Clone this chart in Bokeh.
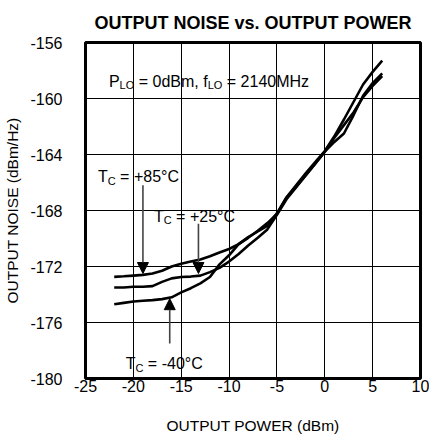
import math
from bokeh.plotting import figure
from bokeh.models import Label, Arrow, NormalHead, FixedTicker, Range1d
from bokeh.embed import file_html
from bokeh.resources import INLINE

# ---------------- data ----------------
output_power = [-22, -21, -20, -19, -18, -17, -16, -15, -14, -13, -12, -11, -10, -9, -8,
                -7, -6, -5, -4, -3, -2, -1, 0, 1, 2, 3, 4, 5, 6]
noise_p85 = [-172.74, -172.7, -172.65, -172.6, -172.5, -172.3, -172.0, -171.8, -171.65, -171.5,
             -171.27, -171.0, -170.75, -170.4, -169.95, -169.45, -168.9, -168.25, -167.1, -166.3,
             -165.5, -164.65, -163.8, -162.8, -161.9, -161.0, -159.9, -159.1, -158.4]
noise_p25 = [-173.5, -173.5, -173.45, -173.45, -173.4, -173.1, -172.85, -172.75, -172.72, -172.65,
             -172.4, -172.1, -171.65, -171.1, -170.5, -169.95, -169.35, -168.3, -167.2, -166.35,
             -165.5, -164.65, -163.8, -163.1, -162.5, -161.2, -159.8, -158.9, -158.2]
noise_m40 = [-174.7, -174.6, -174.5, -174.45, -174.4, -174.33, -174.2, -173.85, -173.55, -173.2,
             -172.75, -171.85, -171.2, -170.4, -169.9, -169.5, -169.1, -168.2, -167.05, -166.2,
             -165.35, -164.55, -163.75, -162.7, -161.5, -160.25, -159.0, -158.1, -157.3]

x_ticks = [-25, -20, -15, -10, -5, 0, 5, 10]
y_ticks = [-180, -176, -172, -168, -164, -160, -156]
x_tick_labels = ["-25", "-20", "-15", "-10", "-5", "0", "5", "10"]
y_tick_labels = ["-180", "-176", "-172", "-168", "-164", "-160", "-156"]

title_text = "OUTPUT NOISE vs. OUTPUT POWER"
x_label = "OUTPUT POWER (dBm)"
y_label = "OUTPUT NOISE (dBm/Hz)"
side_note = "MAX2023 toc14"

NB = "\u00a0"
# annotation texts: (x, y baseline, [(text, is_subscript), ...])
annotations = [
    (-22.55, -158.75, [("P", False), ("LO", True), (NB + "=" + NB + "0dBm," + NB + "f", False),
                       ("LO", True), (NB + "=" + NB + "2140MHz", False)]),
    (-23.7, -165.6, [("T", False), ("C", True), (NB + "=" + NB + "+85°C", False)]),
    (-17.85, -168.4, [("T", False), ("C", True), (NB + "=" + NB + "+25°C", False)]),
    (-20.8, -178.95, [("T", False), ("C", True), (NB + "=" + NB + "-40°C", False)]),
]
# arrows: x, tail y, tip y
arrow_x = [-19.0, -13.2, -16.2]
arrow_tail = [-166.2, -168.95, -177.5]
arrow_tip = [-172.5, -172.5, -174.3]

# ---------------- styling ----------------
INK = "black"
X0, X1 = x_ticks[0], x_ticks[-1]
Y0, Y1 = y_ticks[0], y_ticks[-1]

p = figure(width=429, height=443, x_range=Range1d(X0, X1), y_range=Range1d(Y0, Y1),
           output_backend="svg", toolbar_location=None,
           min_border_left=85, min_border_right=9, min_border_top=42, min_border_bottom=65)

p.title.text = title_text
p.title.text_font_size = "18px"
p.title.text_font_style = "bold"
p.title.text_color = INK
p.title.align = "center"
p.title.standoff = 19

p.outline_line_color = INK
p.outline_line_width = 3

p.xaxis.ticker = FixedTicker(ticks=x_ticks)
p.yaxis.ticker = FixedTicker(ticks=y_ticks)
p.xaxis.major_label_overrides = dict(zip(x_ticks, x_tick_labels))
p.yaxis.major_label_overrides = dict(zip(y_ticks, y_tick_labels))
p.xgrid.ticker = FixedTicker(ticks=x_ticks)
p.ygrid.ticker = FixedTicker(ticks=y_ticks)
p.xgrid.grid_line_color = INK
p.ygrid.grid_line_color = INK
p.xgrid.grid_line_width = 1
p.ygrid.grid_line_width = 1

for ax in (p.xaxis, p.yaxis):
    ax.axis_line_color = None
    ax.major_tick_line_color = None
    ax.minor_tick_line_color = None
    ax.major_label_text_font_size = "16px"
    ax.major_label_text_color = INK
    ax.axis_label_text_font_size = "15.5px"
    ax.axis_label_text_font_style = "normal"
    ax.axis_label_text_color = INK

p.xaxis.axis_label = x_label
p.yaxis.axis_label = y_label
p.xaxis.major_label_standoff = -5
p.xaxis.axis_label_standoff = 22
p.yaxis.major_label_standoff = 17
p.yaxis.axis_label_standoff = 6

for ys in (noise_m40, noise_p25, noise_p85):
    p.line(output_power, ys, line_color=INK, line_width=2.6)

# arrows
for ax_, yt, yh in zip(arrow_x, arrow_tail, arrow_tip):
    p.add_layout(Arrow(end=NormalHead(size=11, fill_color=INK, line_color=INK, line_width=1),
                       x_start=ax_, y_start=yt, x_end=ax_, y_end=yh,
                       line_color="#444444", line_width=1.6))

# text widths (Arial / Liberation Sans metrics, em)
W = {' ': .278, NB: .278, '=': .584, '+': .584, '-': .333, '°': .4, ',': .278, 'T': .611,
     'C': .722, 'P': .667, 'L': .556, 'O': .778, 'd': .556, 'B': .667, 'm': .833, 'f': .278,
     'M': .833, 'H': .722, 'z': .5}
for ch in "0123456789":
    W[ch] = .556


def text_width(s, size):
    return sum(W.get(c, .556) for c in s) * size


MAIN, SUB = 16, 11
for x0, y0, parts in annotations:
    off = 0.0
    for txt, is_sub in parts:
        fs = SUB if is_sub else MAIN
        p.add_layout(Label(x=x0, y=y0, x_offset=off, y_offset=-4 if is_sub else 0, text=txt,
                           text_font_size=f"{fs}px", text_color=INK,
                           text_align="left", text_baseline="alphabetic"))
        off += text_width(txt, fs)

p.add_layout(Label(x=X1, y=Y1, x_offset=4.5, y_offset=-2, text=side_note, angle=-math.pi / 2,
                   text_font_size="7px", text_color="#888888",
                   text_align="left", text_baseline="middle"))

open("out.html", "w").write(file_html(p, INLINE))
